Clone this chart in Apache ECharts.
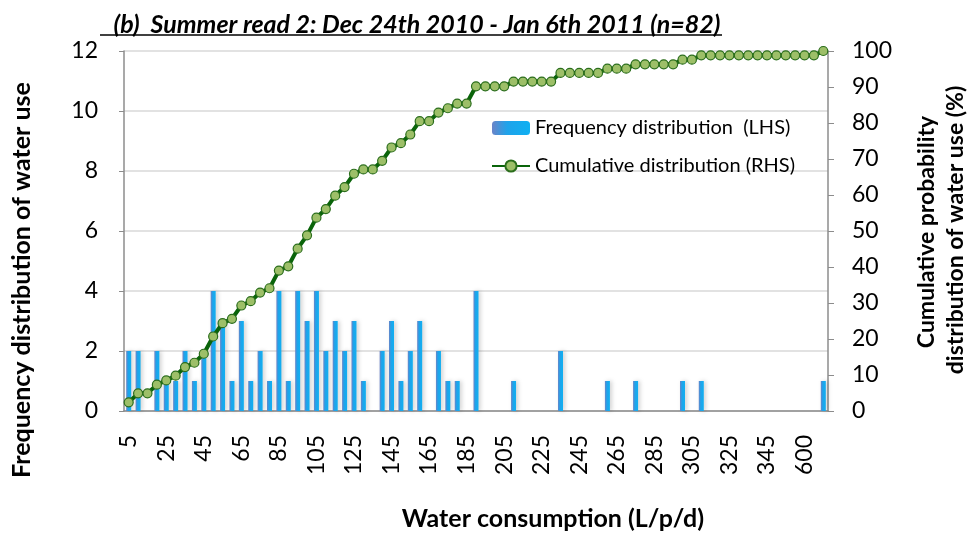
<!DOCTYPE html>
<html>
<head>
<meta charset="utf-8">
<script src="https://cdn.jsdelivr.net/npm/echarts@6/dist/echarts.min.js"></script>
<style>
  html, body { margin: 0; padding: 0; background: #fff; }
  #chart { width: 974px; height: 535px; }
</style>
</head>
<body>
<div id="chart"></div>
<script>
// water consumption bins (L/p/d), only every 4th label is shown
var categories = ['5','10','15','20','25','30','35','40','45','50','55','60','65','70','75','80','85','90','95','100',
  '105','110','115','120','125','130','135','140','145','150','155','160','165','170','175','180','185','190','195','200',
  '205','210','215','220','225','230','235','240','245','250','255','260','265','270','275','280','285','290','295','300',
  '305','310','315','320','325','330','335','340','345','350','400','500','600','700','800'];

// frequency distribution (LHS)
var frequency = [2,2,0,2,1,1,2,1,2,4, 3,1,3,1,2,1,4,1,4,3, 4,2,3,2,3,1,0,2,3,1, 2,3,0,2,1,1,0,4,0,0,
  0,1,0,0,0,0,2,0,0,0, 0,1,0,0,1,0,0,0,0,1, 0,1,0,0,0,0,0,0,0,0, 0,0,0,0,1];

// cumulative distribution in % (RHS)
var cumulative = [2.4,4.9,4.9,7.3,8.5,9.8,12.2,13.4,15.9,20.7, 24.4,25.6,29.3,30.5,32.9,34.1,39.0,40.2,45.1,48.8,
  53.7,56.1,59.8,62.2,65.9,67.1,67.1,69.5,73.2,74.4, 76.8,80.5,80.5,82.9,84.1,85.4,85.4,90.2,90.2,90.2,
  90.2,91.5,91.5,91.5,91.5,91.5,93.9,93.9,93.9,93.9, 93.9,95.1,95.1,95.1,96.3,96.3,96.3,96.3,96.3,97.6,
  97.6,98.8,98.8,98.8,98.8,98.8,98.8,98.8,98.8,98.8, 98.8,98.8,98.8,98.8,100];

var FONT = 'Lato, "Open Sans", sans-serif';
var axisGray = '#8c8c8c';

var chart = echarts.init(document.getElementById('chart'));

var option = {
  animation: false,
  textStyle: { fontFamily: FONT, color: '#000' },
  title: {
    text: '(b)  Summer read 2: Dec 24th 2010 - Jan 6th 2011 (n=82)',
    left: 412, top: 7, textAlign: 'center',
    textStyle: { fontFamily: FONT, fontSize: 25, fontWeight: 'bold', fontStyle: 'italic', color: '#000' }
  },
  grid: { left: 124, right: 146, top: 51, bottom: 124, containLabel: false },
  legend: {
    orient: 'vertical',
    left: 486, top: 113,
    itemWidth: 38, itemHeight: 14, itemGap: 18,
    textStyle: { fontFamily: FONT, fontSize: 20, color: '#000' },
    data: ['Frequency distribution  (LHS)', 'Cumulative distribution (RHS)']
  },
  xAxis: {
    type: 'category',
    data: categories,
    boundaryGap: true,
    axisLine: { lineStyle: { color: axisGray, width: 1.5 } },
    axisTick: { interval: 0, length: 6, lineStyle: { color: axisGray } },
    axisLabel: { interval: 3, rotate: 90, fontSize: 23, color: '#000', margin: 24 }
  },
  yAxis: [
    {
      type: 'value', min: 0, max: 12, interval: 2,
      axisLine: { show: true, lineStyle: { color: axisGray, width: 1.5 } },
      axisTick: { show: true, length: 5, lineStyle: { color: axisGray } },
      axisLabel: { fontSize: 23, color: '#000', margin: 26 },
      splitLine: { lineStyle: { color: '#d9d9d9', width: 1.5 } }
    },
    {
      type: 'value', min: 0, max: 100, interval: 10,
      axisLine: { show: true, lineStyle: { color: axisGray, width: 1.5 } },
      axisTick: { show: true, length: 6, lineStyle: { color: axisGray } },
      axisLabel: { fontSize: 23, color: '#000', margin: 24 },
      splitLine: { show: false }
    }
  ],
  graphic: [
    {
      type: 'line', shape: { x1: 100, y1: 35, x2: 722, y2: 35 },
      style: { stroke: '#000', lineWidth: 1.5 }
    },
    {
      type: 'text', x: 22, y: 280, rotation: Math.PI / 2,
      style: { text: 'Frequency distribution of water use', x: 0, y: 0, align: 'center', verticalAlign: 'middle',
        font: 'bold 25px ' + FONT, fill: '#000' }
    },
    {
      type: 'text', x: 927, y: 232, rotation: Math.PI / 2,
      style: { text: 'Cumulative probability', x: 0, y: 0, align: 'center', verticalAlign: 'middle',
        font: 'bold 23px ' + FONT, fill: '#000' }
    },
    {
      type: 'text', x: 956, y: 230, rotation: Math.PI / 2,
      style: { text: 'distribution of water use (%)', x: 0, y: 0, align: 'center', verticalAlign: 'middle',
        font: 'bold 23px ' + FONT, fill: '#000' }
    },
    {
      type: 'text', x: 553, y: 519,
      style: { text: 'Water consumption (L/p/d)', x: 0, y: 0, align: 'center', verticalAlign: 'middle',
        font: 'bold 25px ' + FONT, fill: '#000' }
    }
  ],
  series: [
    {
      name: 'Frequency distribution  (LHS)',
      type: 'bar',
      yAxisIndex: 0,
      barWidth: 5,
      data: frequency,
      itemStyle: {
        color: new echarts.graphic.LinearGradient(0, 0, 1, 0, [
          { offset: 0, color: '#6a84c8' },
          { offset: 0.4, color: '#1fa3ea' },
          { offset: 1, color: '#0fb0f2' }
        ]),
        shadowColor: 'rgba(0,0,0,0.18)', shadowBlur: 4, shadowOffsetX: 2
      }
    },
    {
      name: 'Cumulative distribution (RHS)',
      type: 'line',
      yAxisIndex: 1,
      data: cumulative,
      symbol: 'circle',
      symbolSize: 9,
      showAllSymbol: true,
      lineStyle: { color: '#0a640a', width: 4 },
      itemStyle: { color: '#9dbf68', borderColor: '#2b6e1c', borderWidth: 1.2 },
      z: 3
    }
  ]
};

chart.setOption(option);
</script>
</body>
</html>
